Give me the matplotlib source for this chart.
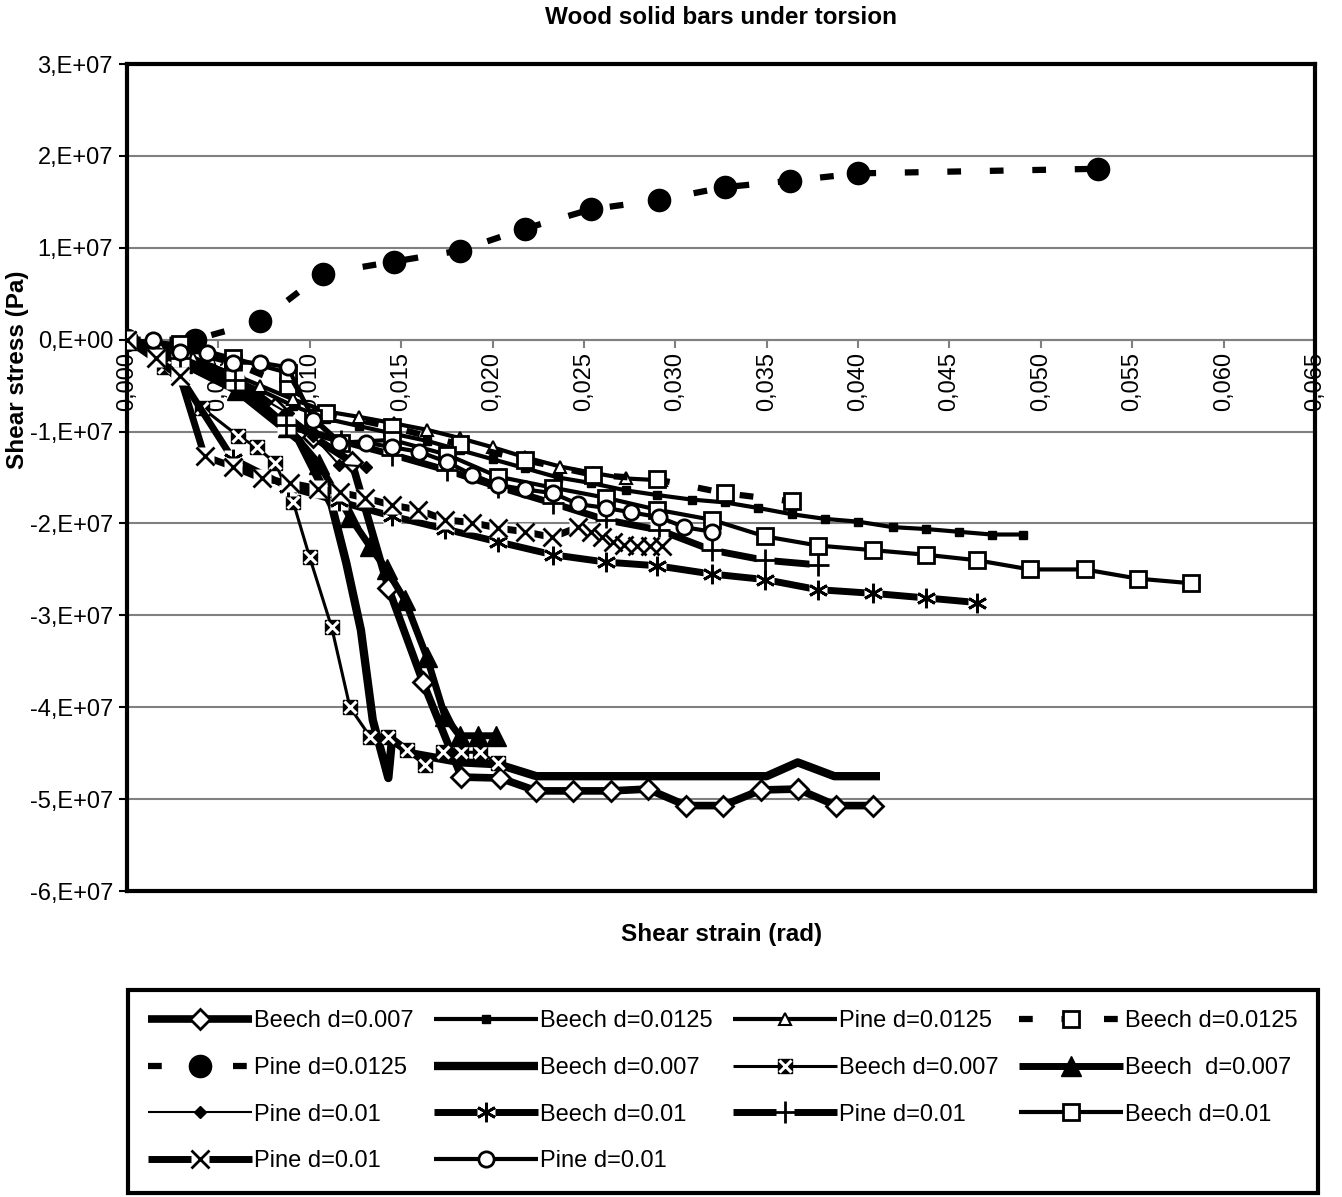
import matplotlib
matplotlib.use("Agg")
import matplotlib.pyplot as plt
import numpy as np
from matplotlib.legend_handler import HandlerTuple
from matplotlib.ticker import FuncFormatter

plt.rcParams["font.family"] = ["Liberation Sans", "DejaVu Sans"]

# torsion tests: shear strain (rad) vs shear stress (Pa)
x_beech007_a = [0, 0.0029, 0.0058, 0.0081, 0.0102, 0.0123, 0.0143, 0.0162, 0.0183, 0.0204,
                0.0224, 0.0244, 0.0265, 0.0285, 0.0306, 0.0326, 0.0347, 0.0367, 0.0388, 0.0408]
y_beech007_a = [0, -1.5e6, -4e6, -7.4e6, -1.06e7, -1.33e7, -2.7e7, -3.73e7, -4.76e7, -4.77e7,
                -4.91e7, -4.91e7, -4.91e7, -4.89e7, -5.07e7, -5.07e7, -4.9e7, -4.89e7, -5.07e7, -5.07e7]

x_beech0125_a = [0, 0.0018, 0.0036, 0.0055, 0.0073, 0.0091, 0.0109, 0.0127, 0.0145, 0.0164,
                 0.0182, 0.02, 0.0218, 0.0236, 0.0254, 0.0273, 0.029, 0.0309, 0.0327, 0.0345,
                 0.0364, 0.0382, 0.04, 0.0419, 0.0437, 0.0455, 0.0473, 0.049]
y_beech0125_a = [0, -1.2e6, -2.5e6, -4e6, -5.5e6, -7.2e6, -8.6e6, -9.4e6, -1.02e7, -1.1e7,
                 -1.2e7, -1.3e7, -1.4e7, -1.5e7, -1.56e7, -1.64e7, -1.69e7, -1.74e7, -1.77e7, -1.83e7,
                 -1.9e7, -1.95e7, -1.98e7, -2.04e7, -2.06e7, -2.09e7, -2.12e7, -2.12e7]

x_pine0125_a = [0, 0.0018, 0.0036, 0.0055, 0.0073, 0.0091, 0.0109, 0.0127, 0.0146, 0.0164,
                0.0182, 0.02, 0.0218, 0.0237, 0.0255, 0.0273, 0.0292]
y_pine0125_a = [0, -8e5, -2e6, -3.5e6, -5e6, -6.5e6, -7.8e6, -8.4e6, -9.1e6, -9.8e6,
                -1.07e7, -1.17e7, -1.28e7, -1.38e7, -1.45e7, -1.51e7, -1.53e7]

x_beech0125_b = [0, 0.0029, 0.0058, 0.0088, 0.0109, 0.0145, 0.0182, 0.0218, 0.0255, 0.029, 0.0327, 0.0364]
y_beech0125_b = [0, -1e6, -2.5e6, -5e6, -8e6, -9.5e6, -1.14e7, -1.31e7, -1.47e7, -1.52e7, -1.67e7, -1.76e7]

x_pine0125_b = [0, 0.0037, 0.0073, 0.0107, 0.0146, 0.0182, 0.0218, 0.0254, 0.0291, 0.0327, 0.0363, 0.04, 0.0531]
y_pine0125_b = [0, 0, 2.0e6, 7.2e6, 8.5e6, 9.7e6, 1.21e7, 1.42e7, 1.52e7, 1.66e7, 1.73e7, 1.81e7, 1.86e7]

x_beech007_b = [0, 0.003, 0.006, 0.0094, 0.0112, 0.012, 0.0128, 0.01345, 0.0143, 0.0145, 0.0155,
                0.0183, 0.0203, 0.0224, 0.035, 0.0367, 0.0387, 0.0412]
y_beech007_b = [0, -2.5e6, -5.5e6, -1.09e7, -1.8e7, -2.43e7, -3.16e7, -4.14e7, -4.77e7, -4.35e7, -4.5e7,
                -4.6e7, -4.62e7, -4.75e7, -4.75e7, -4.6e7, -4.75e7, -4.75e7]

x_beech007_c = [0, 0.002, 0.0041, 0.0061, 0.0071, 0.0081, 0.0091, 0.01, 0.0112, 0.0122,
                0.0133, 0.0143, 0.0153, 0.0163, 0.0173, 0.0183, 0.0193, 0.0203]
y_beech007_c = [0, -3.0e6, -7.4e6, -1.05e7, -1.17e7, -1.34e7, -1.77e7, -2.37e7, -3.13e7, -4.0e7,
                -4.32e7, -4.32e7, -4.47e7, -4.63e7, -4.49e7, -4.49e7, -4.49e7, -4.61e7]

x_beech007_d = [0, 0.003, 0.006, 0.0088, 0.0105, 0.0122, 0.0133, 0.0142, 0.0152, 0.0164,
                0.0174, 0.0182, 0.0192, 0.0202]
y_beech007_d = [0, -2.5e6, -5.5e6, -9.5e6, -1.35e7, -1.93e7, -2.25e7, -2.5e7, -2.83e7, -3.45e7,
                -4.1e7, -4.31e7, -4.31e7, -4.31e7]

x_pine01_a = [0, 0.0029, 0.0058, 0.0088, 0.0102, 0.0116, 0.0131]
y_pine01_a = [0, -2.5e6, -4.5e6, -8e6, -1.05e7, -1.36e7, -1.38e7]

x_beech01_a = [0, 0.0029, 0.0058, 0.0088, 0.0116, 0.0145, 0.0174, 0.0203, 0.0233, 0.0262,
               0.029, 0.032, 0.0349, 0.0378, 0.0408, 0.0437, 0.0465]
y_beech01_a = [0, -4e6, -1.3e7, -1.6e7, -1.76e7, -1.92e7, -2.06e7, -2.2e7, -2.34e7, -2.42e7,
               -2.46e7, -2.55e7, -2.61e7, -2.72e7, -2.76e7, -2.81e7, -2.86e7]

x_pine01_b = [0, 0.0029, 0.0059, 0.0087, 0.0117, 0.0145, 0.0175, 0.0203, 0.0233, 0.0262,
              0.0291, 0.032, 0.0349, 0.0378]
y_pine01_b = [0, -2e6, -4.4e6, -9.3e6, -1.1e7, -1.25e7, -1.42e7, -1.6e7, -1.78e7, -1.96e7,
              -2.07e7, -2.29e7, -2.4e7, -2.45e7]

x_beech01_b = [0, 0.0029, 0.0058, 0.0088, 0.0102, 0.0117, 0.0145, 0.0175, 0.0203, 0.0233,
               0.0262, 0.029, 0.032, 0.0349, 0.0378, 0.0408, 0.0437, 0.0465, 0.0494, 0.0524,
               0.0553, 0.0582]
y_beech01_b = [0, -5e5, -2e6, -3.6e6, -8.5e6, -1.12e7, -1.09e7, -1.25e7, -1.49e7, -1.61e7,
               -1.72e7, -1.85e7, -1.96e7, -2.14e7, -2.24e7, -2.29e7, -2.34e7, -2.4e7, -2.5e7, -2.5e7,
               -2.6e7, -2.65e7]

x_pine01_c = [0, 0.0016, 0.0029, 0.00425, 0.00578, 0.00737, 0.0089, 0.01044, 0.01164, 0.013,
              0.01448, 0.01591, 0.01739, 0.01887, 0.0203, 0.02177, 0.02325, 0.0247, 0.0254, 0.026,
              0.0266, 0.0272, 0.0279, 0.0286, 0.0293]
y_pine01_c = [0, -2e6, -4e6, -1.27e7, -1.38e7, -1.51e7, -1.56e7, -1.62e7, -1.66e7, -1.72e7,
              -1.8e7, -1.85e7, -1.96e7, -1.99e7, -2.05e7, -2.09e7, -2.15e7, -2.04e7, -2.09e7, -2.15e7,
              -2.2e7, -2.23e7, -2.24e7, -2.24e7, -2.25e7]

x_pine01_d = [0.0014, 0.0029, 0.0044, 0.0058, 0.0073, 0.0088, 0.0102, 0.0116, 0.0131, 0.0145,
              0.016, 0.0175, 0.0189, 0.0203, 0.0218, 0.0233, 0.0247, 0.0262, 0.0276, 0.0291,
              0.0305, 0.032]
y_pine01_d = [0, -1.3e6, -1.4e6, -2.5e6, -2.5e6, -3.0e6, -8.7e6, -1.12e7, -1.12e7, -1.17e7,
              -1.22e7, -1.33e7, -1.47e7, -1.58e7, -1.63e7, -1.67e7, -1.79e7, -1.83e7, -1.88e7, -1.93e7,
              -2.04e7, -2.09e7]

labels = ["Beech d=0.007", "Beech d=0.0125", "Pine d=0.0125", "Beech d=0.0125",
          "Pine d=0.0125", "Beech d=0.007", "Beech d=0.007", "Beech  d=0.007",
          "Pine d=0.01", "Beech d=0.01", "Pine d=0.01", "Beech d=0.01",
          "Pine d=0.01", "Pine d=0.01"]

DASH = (2.2, 4.6)
ASTERISK = (6, 2, 0)

fig = plt.figure(figsize=(13.42, 11.97), dpi=100)
ax = fig.add_axes([0.0946, 0.2556, 0.8853, 0.6909])

handles = []
z = 3


def series(x, y, lw, marker="none", ms=0, mfc="black", mew=1.5, dashes=None,
           bg=None, under=None):
    """Draw one series; bg = size of a white square behind each marker."""
    global z
    parts = []
    line, = ax.plot(x, y, color="black", lw=lw, zorder=z, solid_capstyle="butt",
                    dash_capstyle="butt")
    if dashes:
        line.set_dashes(dashes)
    parts.append(line)
    if bg:
        sq, = ax.plot(x, y, ls="none", marker="s", ms=bg, mfc="white", mec="none", zorder=z + 0.1)
        parts.append(sq)
    if under:
        u, = ax.plot(x, y, ls="none", marker="s", ms=under, mfc="black", mec="black", zorder=z + 0.2)
        parts.append(u)
    if marker != "none":
        mec = "white" if mfc == "white-glyph" else "black"
        face = "white" if mfc in ("white", "white-glyph") else "black"
        m, = ax.plot(x, y, ls="none", marker=marker, ms=ms, mfc=face, mec=mec, mew=mew, zorder=z + 0.3)
        parts.append(m)
    handles.append(tuple(parts))
    z += 1


series(x_beech007_a, y_beech007_a, 5.5, "D", 10, "white", 2)
series(x_beech0125_a, y_beech0125_a, 3, "s", 6, "black", 1)
series(x_pine0125_a, y_pine0125_a, 3, "^", 9, "white", 1.5)
series(x_beech0125_b, y_beech0125_b, 4.5, "s", 11, "white", 2, dashes=DASH)
series(x_pine0125_b, y_pine0125_b, 4.5, "o", 16, "black", 1, dashes=DASH)
series(x_beech007_b, y_beech007_b, 6)
series(x_beech007_c, y_beech007_c, 2.2, "x", 8, "white-glyph", 2.2, under=10)
series(x_beech007_d, y_beech007_d, 5, "^", 14, "black", 1)
series(x_pine01_a, y_pine01_a, 1.5, "D", 6, "black", 1)
series(x_beech01_a, y_beech01_a, 5, ASTERISK, 14, "black", 2, bg=13)
series(x_pine01_b, y_pine01_b, 5, "+", 16, "black", 2, bg=13)
series(x_beech01_b, y_beech01_b, 3, "s", 11, "white", 2)
series(x_pine01_c, y_pine01_c, 5, "x", 13, "black", 2, bg=13)
series(x_pine01_d, y_pine01_d, 3, "o", 11, "white", 2)

ax.set_xlim(0, 0.065)
ax.set_ylim(-6e7, 3e7)
ax.set_yticks(np.arange(-6e7, 3.1e7, 1e7))
ax.yaxis.set_major_formatter(FuncFormatter(
    lambda v, p: "0,E+00" if abs(v) < 1 else f"{int(round(v / 1e7))},E+07"))
ax.tick_params(axis="y", labelsize=17, length=6, width=1.5, direction="out", pad=4)
ax.set_xticks([])
ax.yaxis.grid(True, color="#808080", lw=1.5)
ax.set_axisbelow(True)
for s in ax.spines.values():
    s.set_linewidth(3)
    s.set_color("black")

# category axis crosses at zero stress, labels hang below it
sec = ax.secondary_xaxis(2 / 3)
sec.set_alignment("bottom")
sec.set_xticks(np.arange(0, 0.0651, 0.005))
sec.xaxis.set_major_formatter(FuncFormatter(lambda v, p: f"{v:.3f}".replace(".", ",")))
sec.tick_params(axis="x", labelsize=17, rotation=90, length=6, width=1.5,
                color="#808080", direction="out", pad=3)
for s in sec.spines.values():
    s.set_color("#808080")
    s.set_linewidth(1.5)

fig.text(0.537, 1 - 18 / 1197, "Wood solid bars under torsion", ha="center", va="center",
         fontsize=17.5, fontweight="bold")
fig.text(0.538, 1 - 935 / 1197, "Shear strain (rad)", ha="center", va="center",
         fontsize=17.5, fontweight="bold")
fig.text(18 / 1342, 1 - 370 / 1197, "Shear stress (Pa)", ha="center", va="center",
         rotation=90, fontsize=17.5, fontweight="bold")

order = [0, 4, 8, 12, 1, 5, 9, 13, 2, 6, 10, 3, 7, 11]
leg = fig.legend([handles[i] for i in order], [labels[i] for i in order], ncol=4,
                 loc="upper left", bbox_to_anchor=(0.0954, 0.0017, 0.8867, 0.1712),
                 mode="expand", frameon=True, fancybox=False, edgecolor="black",
                 framealpha=1, fontsize=17, handlelength=4.4, handletextpad=0.1,
                 numpoints=1, labelspacing=1.05, borderpad=0.85, borderaxespad=0,
                 handler_map={tuple: HandlerTuple(ndivide=1)})
leg.get_frame().set_linewidth(3)

fig.savefig("out.png", dpi=100)
